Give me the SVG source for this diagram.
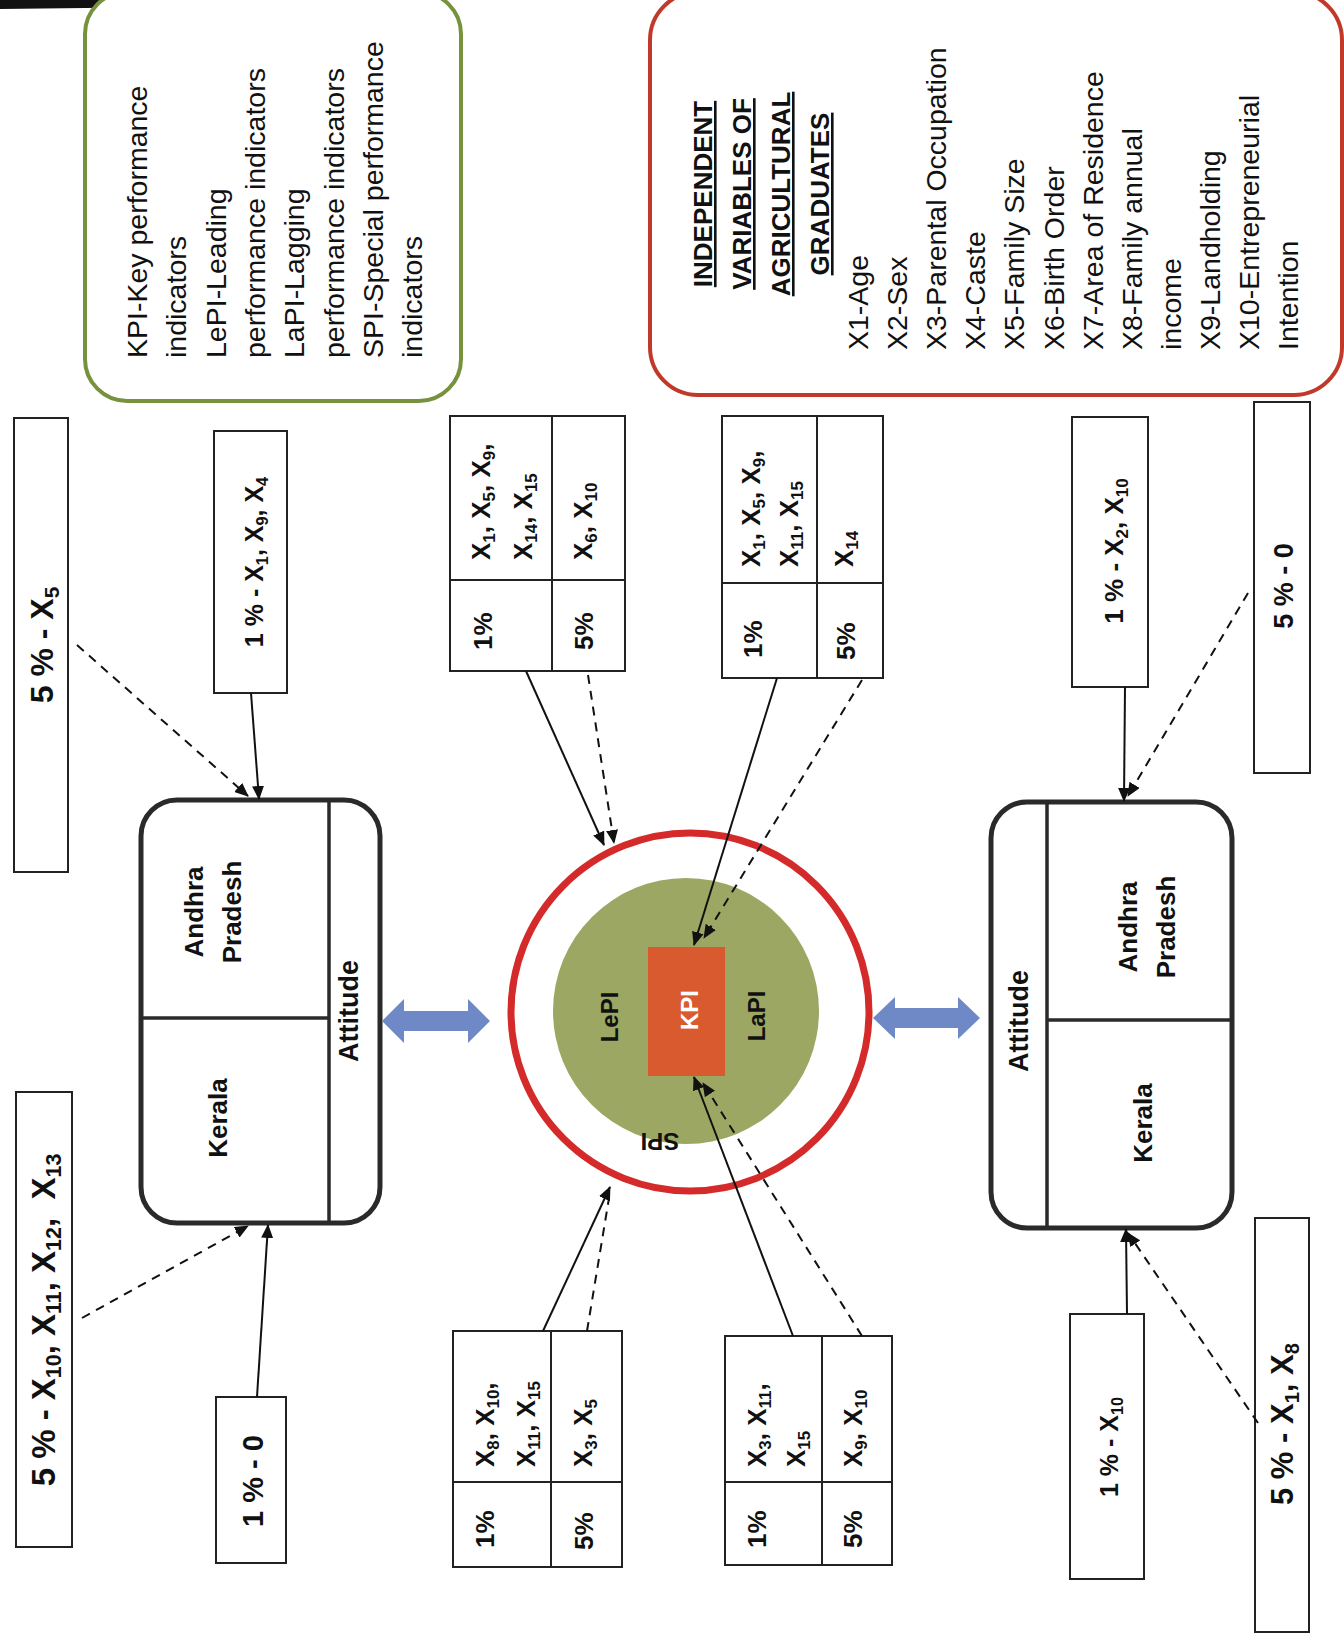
<svg xmlns="http://www.w3.org/2000/svg" width="1344" height="1646" viewBox="0 0 1344 1646">
<defs>
<style>
.t{font-family:"Liberation Sans",Arial,sans-serif;fill:#111}
.b{font-weight:bold}
.s{font-size:65%}
.box{fill:#fff;stroke:#222;stroke-width:2}
.big{fill:#fff;stroke:#2a2a2a;stroke-width:5}
.div{stroke:#2a2a2a;stroke-width:3.5;fill:none}
.cell{stroke:#222;stroke-width:2;fill:none}
.ln{stroke:#111;stroke-width:2;fill:none}
.dash{stroke:#111;stroke-width:2;fill:none;stroke-dasharray:9 7}
.leg{font-size:28.5px}
.tb{font-size:26px}
.dbl{fill:#6F89C6}
</style>
<marker id="ah" viewBox="0 0 14 12" refX="13" refY="6" markerWidth="14" markerHeight="12" markerUnits="userSpaceOnUse" orient="auto">
<path d="M0,0 L14,6 L0,12 z" fill="#111"/>
</marker>
</defs>
<rect width="1344" height="1646" fill="#fff"/>
<polygon points="0,0 352,0 330,5 0,9" fill="#111"/>

<!-- Legend green -->
<g id="legend-pi">
<rect x="85" y="-8" width="376" height="409" rx="42" fill="#fff" stroke="#76923C" stroke-width="4"/>
<g class="t leg" transform="translate(0,358) rotate(-90)">
<text x="0" y="147">KPI-Key performance</text>
<text x="0" y="186">indicators</text>
<text x="0" y="226">LePI-Leading</text>
<text x="0" y="265">performance indicators</text>
<text x="0" y="304">LaPI-Lagging</text>
<text x="0" y="344">performance indicators</text>
<text x="0" y="383">SPI-Special performance</text>
<text x="0" y="422">indicators</text>
</g>
</g>

<!-- Legend red -->
<g id="legend-vars">
<rect x="650" y="-8" width="692" height="403" rx="48" fill="#fff" stroke="#C0392B" stroke-width="4"/>
<g class="t b" font-size="26" text-anchor="middle" text-decoration="underline" transform="translate(0,194) rotate(-90)">
<text x="0" y="712">INDEPENDENT</text>
<text x="0" y="751">VARIABLES OF</text>
<text x="0" y="790">AGRICULTURAL</text>
<text x="0" y="829">GRADUATES</text>
</g>
<g class="t leg" transform="translate(0,350) rotate(-90)">
<text x="0" y="868">X1-Age</text>
<text x="0" y="907">X2-Sex</text>
<text x="0" y="946">X3-Parental Occupation</text>
<text x="0" y="985">X4-Caste</text>
<text x="0" y="1024">X5-Family Size</text>
<text x="0" y="1064">X6-Birth Order</text>
<text x="0" y="1103">X7-Area of Residence</text>
<text x="0" y="1142">X8-Family annual</text>
<text x="0" y="1181">income</text>
<text x="0" y="1220">X9-Landholding</text>
<text x="0" y="1259">X10-Entrepreneurial</text>
<text x="0" y="1298">Intention</text>
</g>
</g>

<!-- Left big box -->
<g id="left-box">
<rect class="big" x="141" y="800" width="239" height="423" rx="36"/>
<line class="div" x1="329" y1="800" x2="329" y2="1223"/>
<line class="div" x1="141" y1="1018" x2="329" y2="1018"/>
<g class="t b" font-size="26" text-anchor="middle">
<text transform="translate(203,912) rotate(-90)">Andhra</text>
<text transform="translate(241,912) rotate(-90)">Pradesh</text>
<text transform="translate(227,1118) rotate(-90)">Kerala</text>
<text font-size="27" transform="translate(358,1011) rotate(-90)">Attitude</text>
</g>
</g>

<!-- Right big box -->
<g id="right-box">
<rect class="big" x="991" y="802" width="241" height="426" rx="36"/>
<line class="div" x1="1047" y1="802" x2="1047" y2="1228"/>
<line class="div" x1="1047" y1="1020" x2="1232" y2="1020"/>
<g class="t b" font-size="26" text-anchor="middle">
<text transform="translate(1137,927) rotate(-90)">Andhra</text>
<text transform="translate(1175,927) rotate(-90)">Pradesh</text>
<text transform="translate(1152,1123) rotate(-90)">Kerala</text>
<text font-size="27" transform="translate(1028,1021) rotate(-90)">Attitude</text>
</g>
</g>

<!-- Centre circle -->
<g id="centre">
<circle cx="690" cy="1012" r="179" fill="#fff" stroke="#D42A2A" stroke-width="7"/>
<circle cx="686" cy="1011" r="133" fill="#9BA762"/>
<rect x="648" y="947" width="77" height="129" fill="#DA5A2F"/>
<g class="t b" font-size="24" text-anchor="middle">
<text fill="#fff" style="fill:#fff" transform="translate(698,1010) rotate(-90)">KPI</text>
<text transform="translate(618,1017) rotate(-90)">LePI</text>
<text transform="translate(765,1016) rotate(-90)">LaPI</text>
<text transform="translate(660,1133) rotate(180)">SPI</text>
</g>
</g>

<!-- double arrows -->
<g id="link-left">
<polygon class="dbl" points="382,1021 404,999 404,1011 468,1011 468,999 490,1021 468,1043 468,1031 404,1031 404,1043"/>
</g>
<g id="link-right">
<polygon class="dbl" points="873,1018 895,997 895,1008 958,1008 958,997 980,1018 958,1039 958,1028 895,1028 895,1039"/>
</g>

<!-- Label boxes -->
<g id="tl-5">
<rect class="box" x="14" y="418" width="54" height="454"/>
<text class="t b" font-size="32" text-anchor="middle" transform="translate(53,645) rotate(-90)">5 % - X<tspan class="s" dy="6">5</tspan></text>
</g>
<g id="tl-1">
<rect class="box" x="214" y="431" width="73" height="262"/>
<text class="t b" font-size="25" text-anchor="middle" transform="translate(263,562) rotate(-90)">1 % - X<tspan class="s" dy="5">1</tspan><tspan dy="-5">, X</tspan><tspan class="s" dy="5">9</tspan><tspan dy="-5">, X</tspan><tspan class="s" dy="5">4</tspan></text>
</g>
<g id="bl-5">
<rect class="box" x="16" y="1092" width="56" height="455"/>
<text class="t b" font-size="33" text-anchor="middle" transform="translate(55,1320) rotate(-90)">5 % - X<tspan class="s" dy="6">10</tspan><tspan dy="-6">, X</tspan><tspan class="s" dy="6">11</tspan><tspan dy="-6">, X</tspan><tspan class="s" dy="6">12</tspan><tspan dy="-6">,&#160; X</tspan><tspan class="s" dy="6">13</tspan></text>
</g>
<g id="bl-1">
<rect class="box" x="216" y="1397" width="70" height="166"/>
<text class="t b" font-size="29" text-anchor="middle" transform="translate(263,1481) rotate(-90)">1 % - 0</text>
</g>
<g id="tr-1">
<rect class="box" x="1072" y="417" width="76" height="270"/>
<text class="t b" font-size="26" text-anchor="middle" transform="translate(1123,551) rotate(-90)">1 % - X<tspan class="s" dy="5">2</tspan><tspan dy="-5">, X</tspan><tspan class="s" dy="5">10</tspan></text>
</g>
<g id="tr-5">
<rect class="box" x="1254" y="402" width="56" height="371"/>
<text class="t b" font-size="27" text-anchor="middle" transform="translate(1293,586) rotate(-90)">5 % - 0</text>
</g>
<g id="br-1">
<rect class="box" x="1070" y="1314" width="74" height="265"/>
<text class="t b" font-size="25" text-anchor="middle" transform="translate(1118,1447) rotate(-90)">1 % - X<tspan class="s" dy="5">10</tspan></text>
</g>
<g id="br-5">
<rect class="box" x="1255" y="1218" width="54" height="414"/>
<text class="t b" font-size="31" text-anchor="middle" transform="translate(1293,1424) rotate(-90)">5 % - X<tspan class="s" dy="6">1</tspan><tspan dy="-6">, X</tspan><tspan class="s" dy="6">8</tspan></text>
</g>

<!-- Tables -->
<g id="table-1">
<rect class="box" x="450" y="416" width="175" height="255"/>
<line class="cell" x1="552" y1="416" x2="552" y2="671"/>
<line class="cell" x1="450" y1="580" x2="625" y2="580"/>
<g class="t b tb">
<text transform="translate(490,560) rotate(-90)">X<tspan class="s" dy="5">1</tspan><tspan dy="-5">, X</tspan><tspan class="s" dy="5">5</tspan><tspan dy="-5">, X</tspan><tspan class="s" dy="5">9</tspan><tspan dy="-5">,</tspan></text>
<text transform="translate(532,560) rotate(-90)">X<tspan class="s" dy="5">14</tspan><tspan dy="-5">, X</tspan><tspan class="s" dy="5">15</tspan></text>
<text transform="translate(592,560) rotate(-90)">X<tspan class="s" dy="5">6</tspan><tspan dy="-5">, X</tspan><tspan class="s" dy="5">10</tspan></text>
<text transform="translate(492,650) rotate(-90)">1%</text>
<text transform="translate(593,650) rotate(-90)">5%</text>
</g>
</g>
<g id="table-2">
<rect class="box" x="722" y="416" width="161" height="262"/>
<line class="cell" x1="817" y1="416" x2="817" y2="678"/>
<line class="cell" x1="722" y1="583" x2="883" y2="583"/>
<g class="t b tb">
<text transform="translate(760,567) rotate(-90)">X<tspan class="s" dy="5">1</tspan><tspan dy="-5">, X</tspan><tspan class="s" dy="5">5</tspan><tspan dy="-5">, X</tspan><tspan class="s" dy="5">9</tspan><tspan dy="-5">,</tspan></text>
<text transform="translate(798,567) rotate(-90)">X<tspan class="s" dy="5">11</tspan><tspan dy="-5">, X</tspan><tspan class="s" dy="5">15</tspan></text>
<text transform="translate(853,567) rotate(-90)">X<tspan class="s" dy="5">14</tspan></text>
<text transform="translate(762,658) rotate(-90)">1%</text>
<text transform="translate(855,660) rotate(-90)">5%</text>
</g>
</g>
<g id="table-3">
<rect class="box" x="453" y="1331" width="169" height="236"/>
<line class="cell" x1="551" y1="1331" x2="551" y2="1567"/>
<line class="cell" x1="453" y1="1482" x2="622" y2="1482"/>
<g class="t b tb">
<text transform="translate(494,1467) rotate(-90)">X<tspan class="s" dy="5">8</tspan><tspan dy="-5">, X</tspan><tspan class="s" dy="5">10</tspan><tspan dy="-5">,</tspan></text>
<text transform="translate(535,1467) rotate(-90)">X<tspan class="s" dy="5">11</tspan><tspan dy="-5">, X</tspan><tspan class="s" dy="5">15</tspan></text>
<text transform="translate(592,1467) rotate(-90)">X<tspan class="s" dy="5">3</tspan><tspan dy="-5">, X</tspan><tspan class="s" dy="5">5</tspan></text>
<text transform="translate(494,1548) rotate(-90)">1%</text>
<text transform="translate(593,1550) rotate(-90)">5%</text>
</g>
</g>
<g id="table-4">
<rect class="box" x="725" y="1336" width="167" height="229"/>
<line class="cell" x1="822" y1="1336" x2="822" y2="1565"/>
<line class="cell" x1="725" y1="1482" x2="892" y2="1482"/>
<g class="t b tb">
<text transform="translate(766,1467) rotate(-90)">X<tspan class="s" dy="5">3</tspan><tspan dy="-5">, X</tspan><tspan class="s" dy="5">11</tspan><tspan dy="-5">,</tspan></text>
<text transform="translate(805,1467) rotate(-90)">X<tspan class="s" dy="5">15</tspan></text>
<text transform="translate(862,1467) rotate(-90)">X<tspan class="s" dy="5">9</tspan><tspan dy="-5">, X</tspan><tspan class="s" dy="5">10</tspan></text>
<text transform="translate(766,1548) rotate(-90)">1%</text>
<text transform="translate(862,1548) rotate(-90)">5%</text>
</g>
</g>

<!-- Connectors -->
<g id="connectors">
<line class="ln" x1="251" y1="693" x2="259" y2="799" marker-end="url(#ah)"/>
<line class="dash" x1="77" y1="645" x2="248" y2="796" marker-end="url(#ah)"/>
<line class="ln" x1="257" y1="1397" x2="268" y2="1225" marker-end="url(#ah)"/>
<line class="dash" x1="82" y1="1318" x2="248" y2="1226" marker-end="url(#ah)"/>
<line class="ln" x1="526" y1="671" x2="604" y2="845" marker-end="url(#ah)"/>
<line class="dash" x1="588" y1="675" x2="614" y2="843" marker-end="url(#ah)"/>
<line class="ln" x1="777" y1="678" x2="694" y2="945" marker-end="url(#ah)"/>
<line class="dash" x1="862" y1="680" x2="704" y2="938" marker-end="url(#ah)"/>
<line class="ln" x1="543" y1="1331" x2="610" y2="1187" marker-end="url(#ah)"/>
<line class="dash" x1="587" y1="1331" x2="609" y2="1198"/>
<line class="ln" x1="793" y1="1336" x2="694" y2="1077" marker-end="url(#ah)"/>
<line class="dash" x1="862" y1="1336" x2="703" y2="1083" marker-end="url(#ah)"/>
<line class="ln" x1="1125" y1="687" x2="1124" y2="801" marker-end="url(#ah)"/>
<line class="dash" x1="1248" y1="593" x2="1128" y2="796" marker-end="url(#ah)"/>
<line class="ln" x1="1127" y1="1314" x2="1126" y2="1229" marker-end="url(#ah)"/>
<line class="dash" x1="1258" y1="1423" x2="1128" y2="1233" marker-end="url(#ah)"/>
</g>
</svg>
